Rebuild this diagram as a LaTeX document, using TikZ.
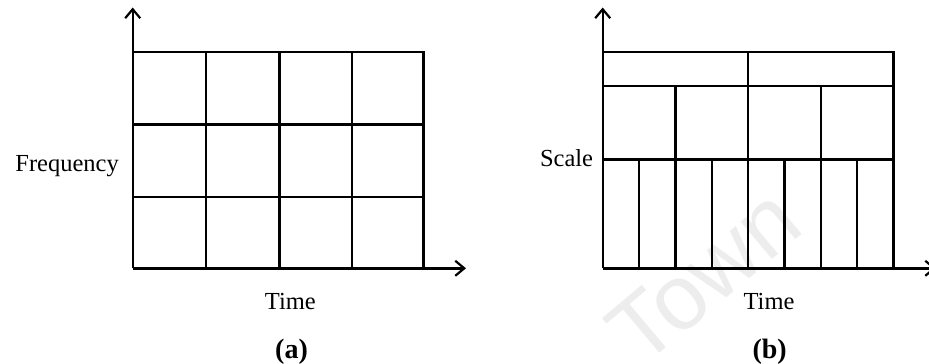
\documentclass[tikz,border=0pt]{standalone}
\usepackage{fontspec}
\setmainfont{Liberation Serif}
\newfontfamily\wmfont{Liberation Sans}
\usetikzlibrary{arrows.meta}
\begin{document}
\begin{tikzpicture}[x=1pt,y=-1pt,
  gridline/.style={line width=2.4pt, line cap=rect},
  axisline/.style={line width=2.4pt, -{Straight Barb[length=9pt,width=15pt,line width=2.2pt]}},
  lbl/.style={inner sep=0pt, font=\fontsize{24.5}{28}\selectfont},
  captionlbl/.style={inner sep=0pt, font=\fontsize{28}{32}\selectfont\bfseries}]
\useasboundingbox (0,0) rectangle (929,364);
\clip (0,0) rectangle (929,364);
% watermark
\node[inner sep=0pt, rotate=40, text=black!7, font=\fontsize{92}{96}\selectfont\wmfont] (wm) at (704,276) {Town};
% ---------- (a) ----------
\coordinate (aO) at (132.7,268.3);
\coordinate (aY) at (132.7,7.5);
\coordinate (aX) at (466,268.3);
\foreach \x in {206,279.3,351.7,423.3} \draw[gridline] (\x,51.7) -- (\x,268.3);
\foreach \y in {51.7,124.3,196.7} \draw[gridline] (132.7,\y) -- (423.3,\y);
\draw[axisline] (aO) -- (aY);
\draw[axisline] (aO) -- (aX);
\node[lbl, anchor=base east] (freq) at (119,171.5) {Frequency};
\node[lbl, anchor=base] (timea) at (290.4,309.3) {Time};
\node[captionlbl, anchor=base] (capa) at (291.5,358.5) {(a)};
% ---------- (b) ----------
\coordinate (bO) at (602.7,268.3);
\coordinate (bY) at (602.7,7.5);
\coordinate (bX) at (936,268.3);
\draw[gridline] (602.7,51.7) -- (893.3,51.7);
\draw[gridline] (602.7,86) -- (893.3,86);
\draw[gridline] (602.7,159.3) -- (893.3,159.3);
\draw[gridline] (893.3,51.7) -- (893.3,268.3);
\draw[gridline] (748,51.7) -- (748,268.3);
\foreach \x in {675.3,820.7} \draw[gridline] (\x,86) -- (\x,268.3);
\foreach \x in {639,711.7,784.3,857} \draw[gridline] (\x,159.3) -- (\x,268.3);
\draw[axisline] (bO) -- (bY);
\draw[axisline] (bO) -- (bX);
\node[lbl, anchor=base east] (scale) at (593.3,166.7) {Scale};
\node[lbl, anchor=base] (timeb) at (769,309.3) {Time};
\node[captionlbl, anchor=base] (capb) at (769.7,358.5) {(b)};
\end{tikzpicture}
\end{document}
